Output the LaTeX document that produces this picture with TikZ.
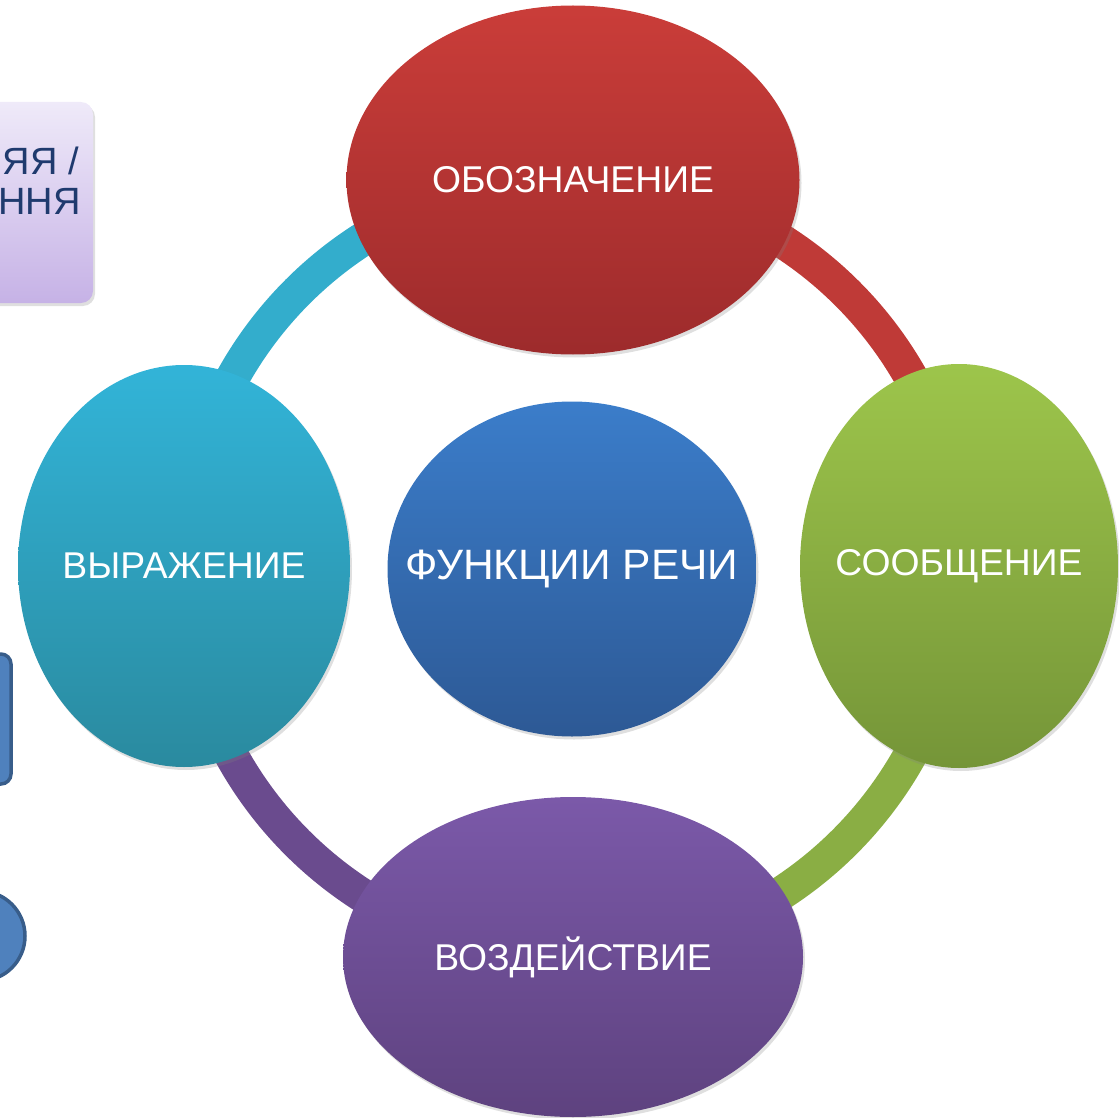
\documentclass[tikz,border=0pt]{standalone}
\usepackage{fontspec}
\setmainfont{Liberation Sans}
\usetikzlibrary{shapes.geometric,shadows}
\definecolor{redtop}{HTML}{CA3D39}
\definecolor{redbot}{HTML}{9D2B2C}
\definecolor{greentop}{HTML}{9DC54B}
\definecolor{greenbot}{HTML}{759538}
\definecolor{tealtop}{HTML}{32B4D8}
\definecolor{tealbot}{HTML}{2A8A9F}
\definecolor{purptop}{HTML}{7B59A9}
\definecolor{purpbot}{HTML}{5E427F}
\definecolor{bluetop}{HTML}{3B7DCA}
\definecolor{bluebot}{HTML}{2D5995}
\definecolor{ringteal}{HTML}{33ADCC}
\definecolor{ringred}{HTML}{BF3A37}
\definecolor{ringgreen}{HTML}{8AAE44}
\definecolor{ringpurp}{HTML}{6A4B8E}
\definecolor{lavtop}{HTML}{EFEAF9}
\definecolor{lavbot}{HTML}{C6B2E6}
\definecolor{navytext}{HTML}{1F3A6E}
\definecolor{boxblue}{HTML}{4F81BD}
\definecolor{boxedge}{HTML}{385D8A}
\tikzset{
  blob/.style={ellipse, inner sep=0pt, text=white,
    drop shadow={opacity=0.25, shadow xshift=2pt, shadow yshift=-3pt}},
  ringarc/.style={line width=34pt},
  lbl/.style={font=\fontsize{37.3}{40}\selectfont},
  navy/.style={anchor=east, text=navytext, font=\fontsize{38}{40}\selectfont, inner sep=0pt},
}
\newcommand{\zw}[1]{\makebox[0pt]{#1}}
\begin{document}
\begin{tikzpicture}[x=1pt,y=1pt]
\useasboundingbox (0,0) rectangle (1119,-1118);
\clip (0,0) rectangle (1119,-1118);
% centres of the ring
\coordinate (cl) at (184,-566);
\coordinate (ct) at (573,-180);
\coordinate (cr) at (959,-566);
\coordinate (cb) at (573,-957);
% ring arcs
\draw[ringarc, ringteal] (cl) arc[start angle=180, end angle=90, radius=388];
\draw[ringarc, ringred] (ct) arc[start angle=90, end angle=0, radius=388];
\draw[ringarc, ringgreen] (cr) arc[start angle=0, end angle=-90, radius=390];
\draw[ringarc, ringpurp] (cb) arc[start angle=-90, end angle=-180, radius=390];
% ellipses
\node[blob, minimum width=453pt, minimum height=349pt, top color=redtop, bottom color=redbot, lbl] (top) at (ct) {\zw{ОБОЗНАЧЕНИЕ}};
\node[blob, minimum width=318pt, minimum height=404pt, top color=greentop, bottom color=greenbot, lbl] (right) at (cr) {\zw{СООБЩЕНИЕ}};
\node[blob, minimum width=332pt, minimum height=402pt, top color=tealtop, bottom color=tealbot, lbl] (left) at (cl) {\zw{ВЫРАЖЕНИЕ}};
\node[blob, minimum width=460pt, minimum height=320pt, top color=purptop, bottom color=purpbot, lbl] (bottom) at (cb) {\zw{ВОЗДЕЙСТВИЕ}};
\node[blob, minimum width=369pt, minimum height=335pt, top color=bluetop, bottom color=bluebot, font=\fontsize{42.5}{46}\selectfont] (centre) at (572,-569) {\zw{ФУНКЦИИ РЕЧИ}};
% partial shapes at the left edge
\node[draw=none, rounded corners=12pt, minimum width=150pt, minimum height=201pt, top color=lavtop, bottom color=lavbot, drop shadow={opacity=0.25, shadow xshift=2pt, shadow yshift=-3pt}] (lavbox) at (18,-202.5) {};
\node[navy] (t1) at (79,-161) {ЯЯ /};
\node[navy] (t2) at (81,-201) {ННЯ};
\node[draw=boxedge, line width=3.5pt, fill=boxblue, rounded corners=10pt, minimum width=80pt, minimum height=130pt] (bluebox) at (-29,-719) {};
\node[draw=boxedge, line width=3.5pt, fill=boxblue, circle, minimum size=90pt, inner sep=0pt] (bluecirc) at (-20,-936) {};
\end{tikzpicture}
\end{document}
